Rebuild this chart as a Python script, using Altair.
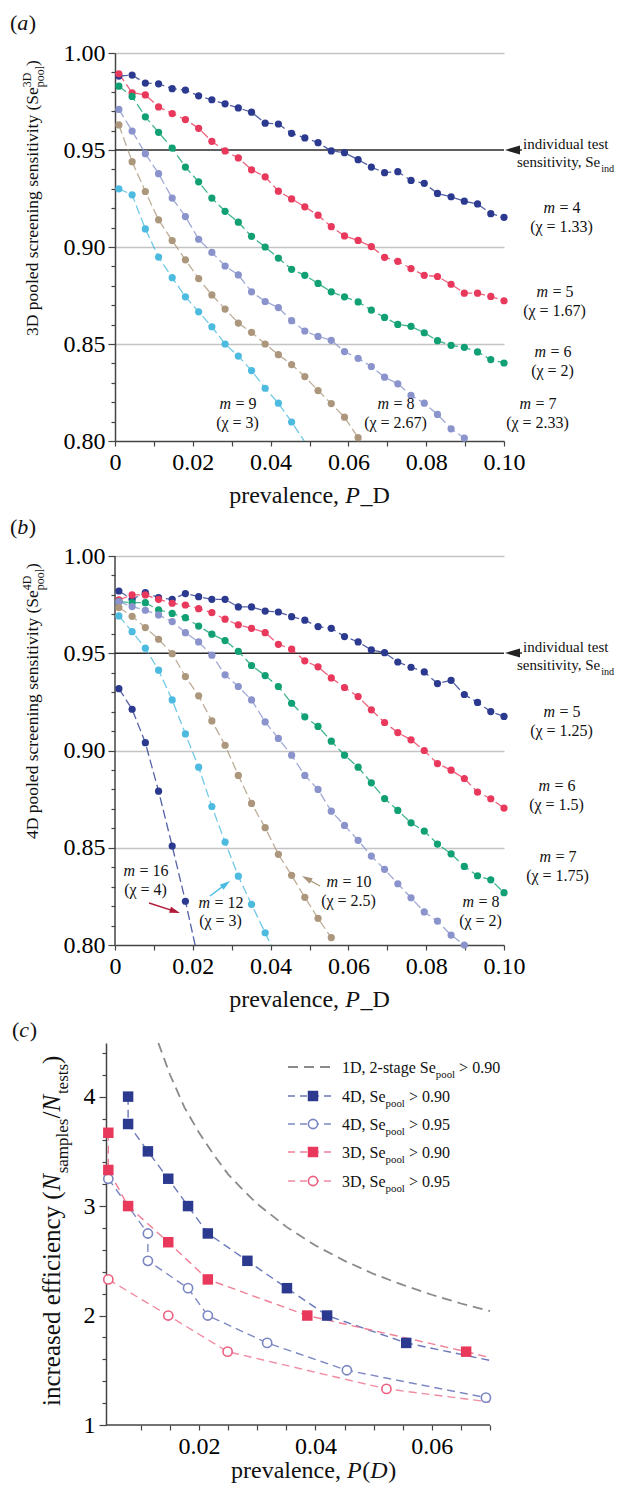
import math
import altair as alt
import pandas as pd

FONT = "Liberation Serif"

# ---------------- data ----------------
PREV = [0.0010, 0.0044, 0.0078, 0.0112, 0.0147, 0.0181, 0.0215, 0.0249, 0.0283, 0.0317,
        0.0351, 0.0386, 0.0420, 0.0454, 0.0488, 0.0522, 0.0556, 0.0590, 0.0625, 0.0659,
        0.0693, 0.0727, 0.0761, 0.0795, 0.0829, 0.0864, 0.0898, 0.0932, 0.0966, 0.1000]

# panel (a): 3D pooled sensitivity, pool size m
A_NAMES = ["a_m4", "a_m5", "a_m6", "a_m7", "a_m8", "a_m9"]
A_M4 = [0.9881, 0.9886, 0.9845, 0.9841, 0.9816, 0.9809, 0.9779, 0.9759, 0.9738, 0.9717,
        0.9695, 0.9638, 0.9634, 0.9586, 0.9562, 0.9538, 0.9495, 0.9486, 0.9450, 0.9412,
        0.9383, 0.9388, 0.9343, 0.9328, 0.9276, 0.9259, 0.9236, 0.9222, 0.9172, 0.9153]
A_M5 = [0.9893, 0.9795, 0.9784, 0.9722, 0.9688, 0.9657, 0.9612, 0.9545, 0.9495, 0.9459,
        0.9398, 0.9362, 0.9288, 0.9248, 0.9207, 0.9164, 0.9105, 0.9057, 0.9034, 0.9002,
        0.8947, 0.8926, 0.8889, 0.8854, 0.8848, 0.8808, 0.8762, 0.8762, 0.8745, 0.8723]
A_M6 = [0.9829, 0.9776, 0.9671, 0.9591, 0.9510, 0.9412, 0.9336, 0.9252, 0.9184, 0.9128,
        0.9055, 0.9000, 0.8943, 0.8885, 0.8854, 0.8812, 0.8769, 0.8743, 0.8717, 0.8675,
        0.8637, 0.8601, 0.8591, 0.8558, 0.8517, 0.8493, 0.8483, 0.8459, 0.8420, 0.8402]
A_M7 = [0.9709, 0.9598, 0.9481, 0.9378, 0.9252, 0.9157, 0.9040, 0.8972, 0.8902, 0.8856,
        0.8769, 0.8719, 0.8688, 0.8620, 0.8567, 0.8539, 0.8519, 0.8461, 0.8426, 0.8384,
        0.8329, 0.8295, 0.8235, 0.8195, 0.8137, 0.8063, 0.8015]
A_M8 = [0.9629, 0.9440, 0.9286, 0.9140, 0.9033, 0.8934, 0.8837, 0.8753, 0.8680, 0.8608,
        0.8560, 0.8500, 0.8445, 0.8394, 0.8332, 0.8260, 0.8193, 0.8123, 0.8017]
A_M9 = [0.9300, 0.9269, 0.9093, 0.8948, 0.8842, 0.8743, 0.8666, 0.8589, 0.8500, 0.8438,
        0.8363, 0.8272, 0.8195, 0.8098]
A_TAILS = {"a_m9": (0.0488, 0.7995)}
A_COLORS = ["#2B3A8E", "#E8395C", "#10A074", "#8A93CB", "#AC977D", "#4DBBE0"]

# panel (b): 4D pooled sensitivity, pool size m
B_NAMES = ["b_m5", "b_m6", "b_m7", "b_m8", "b_m10", "b_m12", "b_m16"]
B_M5 = [0.9820, 0.9777, 0.9812, 0.9786, 0.9777, 0.9807, 0.9791, 0.9777, 0.9777, 0.9738,
        0.9738, 0.9717, 0.9712, 0.9688, 0.9670, 0.9637, 0.9628, 0.9586, 0.9558, 0.9517,
        0.9503, 0.9455, 0.9428, 0.9404, 0.9344, 0.9361, 0.9288, 0.9247, 0.9200, 0.9175]
B_M6 = [0.9774, 0.9800, 0.9800, 0.9777, 0.9757, 0.9748, 0.9729, 0.9709, 0.9675, 0.9646,
        0.9628, 0.9606, 0.9546, 0.9521, 0.9461, 0.9430, 0.9373, 0.9324, 0.9277, 0.9209,
        0.9144, 0.9092, 0.9055, 0.9000, 0.8933, 0.8899, 0.8856, 0.8786, 0.8752, 0.8704]
B_M7 = [0.9765, 0.9760, 0.9760, 0.9723, 0.9705, 0.9683, 0.9640, 0.9598, 0.9565, 0.9510,
        0.9437, 0.9385, 0.9329, 0.9243, 0.9173, 0.9124, 0.9048, 0.8976, 0.8914, 0.8834,
        0.8753, 0.8692, 0.8628, 0.8586, 0.8519, 0.8469, 0.8404, 0.8356, 0.8335, 0.8269]
B_M8 = [0.9765, 0.9740, 0.9721, 0.9697, 0.9663, 0.9606, 0.9558, 0.9490, 0.9389, 0.9329,
        0.9260, 0.9147, 0.9062, 0.8976, 0.8872, 0.8800, 0.8688, 0.8615, 0.8538, 0.8457,
        0.8389, 0.8315, 0.8243, 0.8170, 0.8123, 0.8051, 0.8000]
B_M10 = [0.9735, 0.9690, 0.9632, 0.9572, 0.9498, 0.9380, 0.9281, 0.9152, 0.9027, 0.8872,
         0.8728, 0.8603, 0.8466, 0.8358, 0.8245, 0.8137, 0.8038]
B_M12 = [0.9692, 0.9611, 0.9526, 0.9413, 0.9260, 0.9085, 0.8914, 0.8712, 0.8529, 0.8354,
         0.8209, 0.8063]
B_M16 = [0.9318, 0.9212, 0.9040, 0.8791, 0.8509, 0.8225]
B_TAILS = {"b_m12": (0.0420, 0.7918), "b_m16": (0.0215, 0.7919)}
B_COLORS = ["#2B3A8E", "#E8395C", "#10A074", "#8A93CB", "#AC977D", "#4DBBE0", "#B3193A"]

# panel (c): increased efficiency
C_X_4D90 = [0.0078, 0.0078, 0.0112, 0.0147, 0.0181, 0.0215, 0.0283, 0.0351, 0.0420, 0.0556]
C_Y_4D90 = [4.00, 3.75, 3.50, 3.25, 3.00, 2.75, 2.50, 2.25, 2.00, 1.75]
C_X_4D95 = [0.0044, 0.0112, 0.0112, 0.0181, 0.0215, 0.0317, 0.0454, 0.0693]
C_Y_4D95 = [3.25, 2.75, 2.50, 2.25, 2.00, 1.75, 1.50, 1.25]
C_X_3D90 = [0.0044, 0.0044, 0.0078, 0.0147, 0.0215, 0.0386, 0.0659]
C_Y_3D90 = [3.67, 3.33, 3.00, 2.67, 2.33, 2.00, 1.67]
C_X_3D95 = [0.0044, 0.0147, 0.0249, 0.0522]
C_Y_3D95 = [2.33, 2.00, 1.67, 1.33]
C_TAILS = {"4D90": (0.0700, 1.59), "3D90": (0.0700, 1.615), "3D95": (0.0700, 1.21)}
C_X_1D = [0.0130, 0.0150, 0.0175, 0.0200, 0.0225, 0.0250, 0.0275, 0.0300, 0.0350, 0.0400,
          0.0450, 0.0500, 0.0550, 0.0600, 0.0650, 0.0700]
C_Y_1D = [4.49, 4.20, 3.90, 3.67, 3.47, 3.29, 3.15, 3.02, 2.81, 2.64,
          2.50, 2.38, 2.28, 2.19, 2.11, 2.04]

# tick values
AB_Y_TICKS = [0.80, 0.81, 0.82, 0.83, 0.84, 0.85, 0.86, 0.87, 0.88, 0.89, 0.90,
              0.91, 0.92, 0.93, 0.94, 0.95, 0.96, 0.97, 0.98, 0.99, 1.00]
AB_X_TICKS = [0.00, 0.01, 0.02, 0.03, 0.04, 0.05, 0.06, 0.07, 0.08, 0.09, 0.10]
C_Y_TICKS = [1.0, 1.2, 1.4, 1.6, 1.8, 2.0, 2.2, 2.4, 2.6, 2.8, 3.0, 3.2, 3.4, 3.6, 3.8,
             4.0, 4.2, 4.4]
C_X_TICKS = [0.005, 0.010, 0.015, 0.020, 0.025, 0.030, 0.035, 0.040, 0.045, 0.050,
             0.055, 0.060, 0.065, 0.070]

# ---------------- text helpers (Times metrics) ----------------
REG = {' ': 250, '(': 333, ')': 333, ',': 250, '.': 250, '/': 278, '=': 564, '>': 564,
       '-': 333, '_': 500, 'D': 722, 'N': 722, 'P': 556, 'S': 556, 'χ': 500}
for _d in "0123456789":
    REG[_d] = 500
REG.update(dict(a=444, b=500, c=444, d=500, e=444, f=333, g=500, h=500, i=278, k=500,
                l=278, m=778, n=500, o=500, p=500, r=333, s=389, t=278, u=500, v=500,
                x=500, y=500))
ITA = {'P': 640, 'D': 750, 'N': 700, 'm': 740, 'a': 520, 'b': 520, 'c': 470}


def tw(s, ital=False):
    tab = ITA if ital else REG
    return sum(tab.get(ch, REG.get(ch, 500)) for ch in s) / 1000.0


def rich(parts, x, y, size, align="left", angle=0):
    """Rich text: parts = [(text, style)], style r / i / sub / sup. Leading spaces are
    turned into offsets (SVG drops them); trailing spaces still advance."""
    items = []
    for t, st in parts:
        fs = size * 0.68 if st in ("sub", "sup") else size
        lead = len(t) - len(t.lstrip(" "))
        items.append((t.strip(" "), st, fs, tw(t, st == "i") * fs, tw(" " * lead) * fs))
    adv = []
    for k, it in enumerate(items):
        if it[1] == "sup" and k + 1 < len(items) and items[k + 1][1] == "sub":
            adv.append(0.0)
        elif it[1] == "sub" and k > 0 and items[k - 1][1] == "sup":
            adv.append(max(it[3], items[k - 1][3]))
        else:
            adv.append(it[3])
    total = sum(adv)
    pos = {"left": 0.0, "center": -total / 2, "right": -total}[align]
    rows = []
    for (t, st, fs, w, lw), a in zip(items, adv):
        off = 0.32 * size if st == "sub" else (-0.4 * size if st == "sup" else 0.0)
        p = pos + lw
        if angle == 0:
            px, py = x + p, y + off
        else:
            px, py = x + off, y - p
        rows.append(dict(t=t, px=px, py=py, fs=fs, ital=(st == "i"), ang=angle))
        pos += a
    return rows


class Panel:
    def __init__(self, W, H, xdom, ydom, xaxis, yaxis):
        self.W, self.H, self.xdom, self.ydom = W, H, xdom, ydom
        self.xs = alt.Scale(domain=xdom, nice=False, zero=False)
        self.ys = alt.Scale(domain=ydom, nice=False, zero=False)
        self.xaxis, self.yaxis = xaxis, yaxis
        self.layers = []

    def conv(self, px, py):
        return (self.xdom[0] + px / self.W * (self.xdom[1] - self.xdom[0]),
                self.ydom[1] - py / self.H * (self.ydom[1] - self.ydom[0]))

    def X(self, f="x"):
        return alt.X(f + ":Q", scale=self.xs, axis=self.xaxis)

    def Y(self, f="y"):
        return alt.Y(f + ":Q", scale=self.ys, axis=self.yaxis)

    def add(self, ch):
        self.layers.append(ch)

    def texts(self, rows):
        for r in rows:
            r["x"], r["y"] = self.conv(r["px"], r["py"])
        df = pd.DataFrame(rows)
        for ital in (False, True):
            d = df[df["ital"] == ital][["x", "y", "t", "fs", "ang"]]
            if d.empty:
                continue
            self.add(alt.Chart(d).mark_text(
                align="left", baseline="alphabetic", font=FONT,
                fontStyle="italic" if ital else "normal", color="#111111").encode(
                x=self.X(), y=self.Y(), text=alt.Text("t:N"),
                size=alt.Size("fs:Q", scale=None, legend=None),
                angle=alt.Angle("ang:Q", scale=None)))

    def arrow(self, tx, ty, hx, hy, col, sz):
        dx, dy = hx - tx, hy - ty
        L = math.hypot(dx, dy)
        ux, uy = dx / L, dy / L
        r = math.sqrt(sz) / 2
        cx, cy = hx - r * ux, hy - r * uy
        ang = (math.degrees(math.atan2(dy, dx)) + 360) % 360
        x1, y1 = self.conv(tx, ty)
        x2, y2 = self.conv(cx, cy)
        if L > r * 2.2:
            self.add(alt.Chart(pd.DataFrame([dict(x=x1, y=y1, x2=x2, y2=y2)])).mark_rule(
                strokeWidth=1.4, color=col).encode(x=self.X(), y=self.Y(), x2="x2:Q", y2="y2:Q"))
        self.add(alt.Chart(pd.DataFrame([dict(x=x2, y=y2)])).mark_point(
            shape="M1,0L-1,-0.6L-1,0.6Z", filled=True, opacity=1, color=col, size=sz,
            angle=ang).encode(x=self.X(), y=self.Y()))

    def chart(self):
        return alt.layer(*self.layers).properties(width=self.W, height=self.H)


def series_df(names, xs_lists, ys_lists, tails):
    rows = []
    for n, xl, yl in zip(names, xs_lists, ys_lists):
        for i, (xv, yv) in enumerate(zip(xl, yl)):
            rows.append({"s": n, "x": xv, "y": yv, "i": i, "pt": True})
        if n in tails:
            rows.append({"s": n, "x": tails[n][0], "y": tails[n][1], "i": len(yl), "pt": False})
    return pd.DataFrame(rows)


MAJ5 = "abs(datum.value*20 - round(datum.value*20)) < 0.001"
MAJ2 = "abs(datum.value*50 - round(datum.value*50)) < 0.001"


def ab_axes(show_domain):
    yax = alt.Axis(
        values=AB_Y_TICKS, title=None, labelOverlap=False, labelPadding=3,
        labelExpr=MAJ5 + " ? format(datum.value, '.2f') : ''",
        tickSize={"condition": {"test": MAJ5, "value": 7}, "value": 4},
        grid=True, gridColor="#C4C4C4", gridWidth=1.5,
        gridOpacity={"condition": {"test": "abs(datum.value-0.85)<0.001 || abs(datum.value-0.9)<0.001 || abs(datum.value-1.0)<0.001",
                                   "value": 1}, "value": 0},
        domain=show_domain, labelFontSize=24)
    xax = alt.Axis(
        values=AB_X_TICKS, title=None, labelOverlap=False, labelFlush=False, labelPadding=4,
        labelExpr=MAJ2 + " ? (datum.value < 0.001 ? '0' : format(datum.value, '.2f')) : ''",
        tickSize=5, grid=False, labelFontSize=24)
    return xax, yax


def ab_panel(names, yl, colors, tails, W, H, ydom, rows, arrows, manual_domain):
    xax, yax = ab_axes(not manual_domain)
    P = Panel(W, H, [0.0, 0.1], ydom, xax, yax)
    df = series_df(names, [PREV] * len(names), yl, tails)
    cs = alt.Scale(domain=names, range=colors)
    if manual_domain:
        dom = pd.DataFrame({"x": [0.0], "y": [0.80], "y2": [1.00]})
        P.add(alt.Chart(dom).mark_rule(color="#444444", strokeWidth=1.5).encode(
            x=P.X(), y=P.Y(), y2="y2:Q"))
    ref = pd.DataFrame({"x": [0.0], "x2": [0.1], "y": [0.95]})
    P.add(alt.Chart(ref).mark_rule(color="#2A2A2A", strokeWidth=1.6).encode(
        x=P.X(), x2="x2:Q", y=P.Y()))
    P.add(alt.Chart(df).mark_line(strokeDash=[9, 4], strokeWidth=1.3, opacity=0.8, clip=True).encode(
        x=P.X(), y=P.Y(), color=alt.Color("s:N", scale=cs, legend=None), detail="s:N",
        order=alt.Order("i:Q")))
    pts = df[df["pt"]][["s", "x", "y"]]
    P.add(alt.Chart(pts).mark_circle(size=52, opacity=1).encode(
        x=P.X(), y=P.Y(), color=alt.Color("s:N", scale=cs, legend=None)))
    for a in arrows:
        P.arrow(*a)
    P.texts(rows)
    return P.chart()


# ---------------- panel (a) ----------------
WA, HA = 389, 388
y95a = 97.0
rows_a = []
rows_a += rich([("(", "r"), ("a", "i"), (")", "r")], -105, -23.5, 22)
rows_a += rich([("3D pooled screening sensitivity (Se", "r"), ("3D", "sup"), ("pool", "sub"), (")", "r")],
               -77, 283, 17.5, angle=270)
rows_a += rich([("prevalence, ", "r"), ("P", "i"), ("_D", "r")], WA / 2, HA + 62, 24, align="center")
for mtxt, ctxt, cx, by in [(" = 4", "(χ = 1.33)", 447, 160), (" = 5", "(χ = 1.67)", 440, 244),
                           (" = 6", "(χ = 2)", 438, 304), (" = 7", "(χ = 2.33)", 423, 356),
                           (" = 8", "(χ = 2.67)", 281, 356), (" = 9", "(χ = 3)", 123, 356)]:
    rows_a += rich([("m", "i"), (mtxt, "r")], cx, by, 16, align="center")
    rows_a += rich([(ctxt, "r")], cx, by + 19, 16, align="center")
rows_a += rich([("individual test", "r")], 408, y95a - 1, 15)
rows_a += rich([("sensitivity, Se", "r"), ("ind", "sub")], 402, y95a + 17, 15)
arrows_a = [(WA + 18, y95a, WA + 1, y95a, "#222222", 225)]
panel_a = ab_panel(A_NAMES, [A_M4, A_M5, A_M6, A_M7, A_M8, A_M9], A_COLORS, A_TAILS,
                   WA, HA, [0.80, 1.00], rows_a, arrows_a, False)

# ---------------- panel (b) ----------------
WB, HB = 389, 406
YTOPB = 1.00 + 17.0 / 1945.0
y95b = 17 + 97.0
rows_b = []
rows_b += rich([("(", "r"), ("b", "i"), (")", "r")], -105, -5, 22)
rows_b += rich([("4D pooled screening sensitivity (Se", "r"), ("4D", "sup"), ("pool", "sub"), (")", "r")],
               -77, 300, 17.5, angle=270)
rows_b += rich([("prevalence, ", "r"), ("P", "i"), ("_D", "r")], WB / 2, HB + 62, 24, align="center")
for mtxt, ctxt, cx, by in [(" = 5", "(χ = 1.25)", 447, 178), (" = 6", "(χ = 1.5)", 442, 252),
                           (" = 7", "(χ = 1.75)", 443, 323), (" = 16", "(χ = 4)", 31, 337),
                           (" = 12", "(χ = 3)", 106, 368.5), (" = 10", "(χ = 2.5)", 234, 348),
                           (" = 8", "(χ = 2)", 366, 368)]:
    rows_b += rich([("m", "i"), (mtxt, "r")], cx, by, 16, align="center")
    rows_b += rich([(ctxt, "r")], cx, by + 18.5, 16, align="center")
rows_b += rich([("individual test", "r")], 408, y95b - 1, 15)
rows_b += rich([("sensitivity, Se", "r"), ("ind", "sub")], 402, y95b + 17, 15)
arrows_b = [(WB + 18, y95b, WB + 1, y95b, "#222222", 225),
            (34, 364, 65, 374, "#B3193A", 110),
            (95, 357, 115, 342, "#4DBBE0", 110),
            (205, 347, 187, 337, "#AC977D", 110)]
panel_b = ab_panel(B_NAMES, [B_M5, B_M6, B_M7, B_M8, B_M10, B_M12, B_M16], B_COLORS,
                   B_TAILS, WB, HB, [0.80, YTOPB], rows_b, arrows_b, True)

# ---------------- panel (c) ----------------
# the y axis of (c) sits 9 px left of the a/b axes: axis offset + hand-drawn x baseline
C_SHIFT = 9
WC, HC = 375, 382
CX0 = 0.004
CXD = [CX0 + C_SHIFT / 5818.0, 0.070]
INT = "abs(datum.value - round(datum.value)) < 0.001"
c_yax = alt.Axis(values=C_Y_TICKS, title=None, labelOverlap=False, labelPadding=4,
                 labelExpr=INT + " ? format(datum.value, 'd') : ''",
                 tickSize={"condition": {"test": INT, "value": 7}, "value": 4},
                 grid=False, labelFontSize=24, offset=C_SHIFT)
c_xax = alt.Axis(values=C_X_TICKS, title=None, labelOverlap=False, labelFlush=False, labelPadding=4,
                 labelExpr=MAJ2 + " ? format(datum.value, '.2f') : ''", tickSize=5, grid=False,
                 labelFontSize=24, domain=False)
PC = Panel(WC, HC, CXD, [1.0, 4.49], c_xax, c_yax)

base = pd.DataFrame({"x": [CX0], "x2": [0.070], "y": [1.0]})
PC.add(alt.Chart(base).mark_rule(color="#444444", strokeWidth=1.5).encode(
    x=PC.X(), x2="x2:Q", y=PC.Y()))
gray = pd.DataFrame({"x": C_X_1D, "y": C_Y_1D})
PC.add(alt.Chart(gray).mark_line(color="#8A8A8A", strokeDash=[10, 6], strokeWidth=1.8).encode(
    x=PC.X(), y=PC.Y()))

C_SERIES = [("4D90", C_X_4D90, C_Y_4D90, "#6A78B9", "#2B3A8E", "square"),
            ("4D95", C_X_4D95, C_Y_4D95, "#7E89C3", "#7A86C2", "open"),
            ("3D90", C_X_3D90, C_Y_3D90, "#EE7F96", "#E8395C", "square"),
            ("3D95", C_X_3D95, C_Y_3D95, "#F08CA2", "#EC5F80", "open")]
for name, xl, yl, lcol, mcol, kind in C_SERIES:
    d = series_df([name], [xl], [yl], C_TAILS)
    PC.add(alt.Chart(d).mark_line(strokeDash=[8, 5], strokeWidth=1.4, color=lcol).encode(
        x=PC.X(), y=PC.Y(), order=alt.Order("i:Q")))
for name, xl, yl, lcol, mcol, kind in C_SERIES:
    d = series_df([name], [xl], [yl], {})[["x", "y"]]
    if kind == "square":
        PC.add(alt.Chart(d).mark_square(size=110, opacity=1, color=mcol).encode(x=PC.X(), y=PC.Y()))
    else:
        PC.add(alt.Chart(d).mark_point(shape="circle", size=85, strokeWidth=1.6, fill="white",
                                       fillOpacity=1, opacity=1, stroke=mcol).encode(x=PC.X(), y=PC.Y()))

# legend (top right, drawn by hand)
LEG_Y = [24, 53, 81, 109, 138]
LEG_ITEMS = [("#8A8A8A", None, None, [10, 6], 1.8),
             ("#6A78B9", "#2B3A8E", "square", [7, 5], 1.4),
             ("#7E89C3", "#7A86C2", "open", [7, 5], 1.4),
             ("#EE7F96", "#E8395C", "square", [7, 5], 1.4),
             ("#F08CA2", "#EC5F80", "open", [7, 5], 1.4)]
for k, (lcol, mcol, kind, dash, sw) in enumerate(LEG_ITEMS):
    x1, yy = PC.conv(173, LEG_Y[k])
    x2, _ = PC.conv(220, LEG_Y[k])
    PC.add(alt.Chart(pd.DataFrame([dict(x=x1, x2=x2, y=yy)])).mark_rule(
        strokeDash=dash, strokeWidth=sw, color=lcol).encode(x=PC.X(), x2="x2:Q", y=PC.Y()))
    if kind:
        mx, _ = PC.conv(198, 0)
        d = pd.DataFrame([dict(x=mx, y=yy)])
        if kind == "square":
            PC.add(alt.Chart(d).mark_square(size=110, opacity=1, color=mcol).encode(x=PC.X(), y=PC.Y()))
        else:
            PC.add(alt.Chart(d).mark_point(shape="circle", size=85, strokeWidth=1.6, fill="white",
                                           fillOpacity=1, opacity=1, stroke=mcol).encode(x=PC.X(), y=PC.Y()))

rows_c = []
rows_c += rich([("(", "r"), ("c", "i"), (")", "r")], -103, -6, 22)
rows_c += rich([("increased efficiency (", "r"), ("N", "i"), ("samples", "sub"), ("/", "r"),
                ("N", "i"), ("tests", "sub"), (")", "r")], -55, 363, 25, angle=270)
rows_c += rich([("prevalence, ", "r"), ("P", "i"), ("(", "r"), ("D", "i"), (")", "r")], 116, HC + 53, 24)
for k, (pre, suf) in enumerate([("1D, 2-stage Se", " > 0.90"), ("4D, Se", " > 0.90"),
                                ("4D, Se", " > 0.95"), ("3D, Se", " > 0.90"), ("3D, Se", " > 0.95")]):
    rows_c += rich([(pre, "r"), ("pool", "sub"), (suf, "r")], 227, LEG_Y[k] + 5.5, 16)
PC.texts(rows_c)
panel_c = PC.chart()

chart = alt.vconcat(panel_a, panel_b, panel_c, spacing=98, bounds="flush").properties(
    padding={"left": 2, "top": 3, "right": 0, "bottom": 0}
).configure_view(stroke=None).configure_axis(
    labelFont=FONT, labelColor="black", domainColor="#444444", tickColor="#444444",
    domainWidth=1.5, tickWidth=1.2)

chart.save("out.html", embed_options={"renderer": "svg", "actions": False})
